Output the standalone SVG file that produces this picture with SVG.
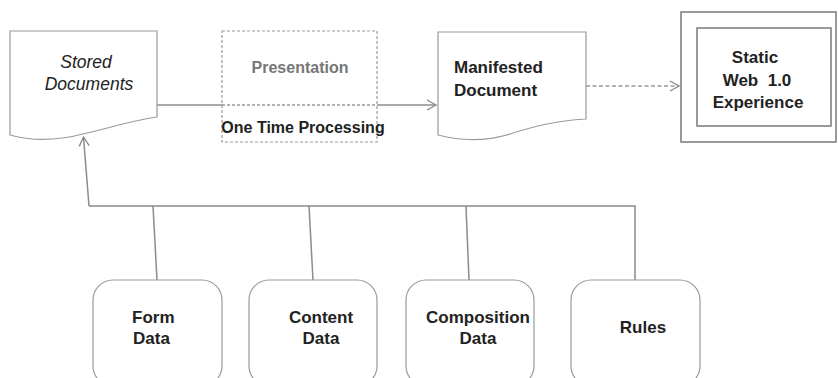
<svg xmlns="http://www.w3.org/2000/svg" width="838" height="378" viewBox="0 0 838 378">
<defs>
<marker id="arr" markerWidth="12" markerHeight="12" refX="10" refY="6" orient="auto" markerUnits="userSpaceOnUse">
<path d="M1,1 L10,6 L1,11" fill="none" stroke="#8a8a8a" stroke-width="1.3"/>
</marker>
</defs>
<style>
.t{font-family:"Liberation Sans",Arial,sans-serif;font-weight:bold;font-size:17px;fill:#222}
.it{font-style:italic;font-weight:normal;font-size:17.5px}
.s16{font-size:16px}
.doc{fill:#fff;stroke:#9a9a9a;stroke-width:1.2}
.rb{fill:#fff;stroke:#9a9a9a;stroke-width:1.2}
.ln{fill:none;stroke:#8c8c8c;stroke-width:1.5}
</style>
<rect width="838" height="378" fill="#fff"/>
<g id="connectors">
<line class="ln" x1="157" y1="105" x2="436" y2="105" marker-end="url(#arr)"/>
<line x1="586" y1="86" x2="679" y2="86" stroke="#999" stroke-width="1.5" stroke-dasharray="4,2.5" marker-end="url(#arr)"/>
<polyline class="ln" points="89,206 635,206 635,280"/>
<line class="ln" x1="89" y1="206" x2="83.5" y2="137" marker-end="url(#arr)"/>
<line class="ln" x1="153" y1="206" x2="157" y2="280"/>
<line class="ln" x1="309" y1="206" x2="313" y2="280"/>
<line class="ln" x1="466" y1="206" x2="469" y2="280"/>
</g>
<g id="stored">
<path class="doc" d="M10,31 H157 V117 C125,122 110,128 83,134 C60,140 35,142 10,135 Z"/>
<text class="t it" x="86" y="68" text-anchor="middle">Stored</text>
<text class="t it" x="89" y="90" text-anchor="middle">Documents</text>
</g>
<g id="presentation">
<rect x="222" y="31" width="155" height="111" fill="#fff" stroke="#9a9a9a" stroke-width="1.2" stroke-dasharray="3,2"/>
<line x1="222" y1="105" x2="377" y2="105" stroke="#999" stroke-width="1.5" stroke-dasharray="3,2"/>
<text class="t s16" x="300" y="73" text-anchor="middle" style="fill:#777">Presentation</text>
<text class="t s16" x="303" y="133" text-anchor="middle">One Time Processing</text>
</g>
<g id="manifested">
<path class="doc" d="M438,32 H586 V119 C555,121 535,126 510,134 C490,140 465,142 438,135 Z"/>
<text class="t" x="454" y="73">Manifested</text>
<text class="t" x="454" y="96">Document</text>
</g>
<g id="static">
<rect x="681" y="12" width="155" height="130" fill="#fff" stroke="#7a7a7a" stroke-width="1.5"/>
<rect x="697" y="28" width="134" height="98" fill="#fff" stroke="#7a7a7a" stroke-width="1.5"/>
<text class="t" x="755" y="63" text-anchor="middle">Static</text>
<text class="t" x="757" y="86" text-anchor="middle" xml:space="preserve">Web  1.0</text>
<text class="t" x="758" y="108" text-anchor="middle">Experience</text>
</g>
<g id="form">
<rect class="rb" x="93" y="280" width="129" height="106" rx="20"/>
<text class="t" x="132" y="323">Form</text>
<text class="t" x="133" y="344">Data</text>
</g>
<g id="content">
<rect class="rb" x="249" y="280" width="128" height="106" rx="20"/>
<text class="t" x="321" y="323" text-anchor="middle">Content</text>
<text class="t" x="321" y="344" text-anchor="middle">Data</text>
</g>
<g id="composition">
<rect class="rb" x="406" y="280" width="128" height="106" rx="20"/>
<text class="t" x="478" y="323" text-anchor="middle">Composition</text>
<text class="t" x="478" y="344" text-anchor="middle">Data</text>
</g>
<g id="rules">
<rect class="rb" x="571" y="280" width="129" height="106" rx="20"/>
<text class="t" x="643" y="333" text-anchor="middle">Rules</text>
</g>
</svg>
